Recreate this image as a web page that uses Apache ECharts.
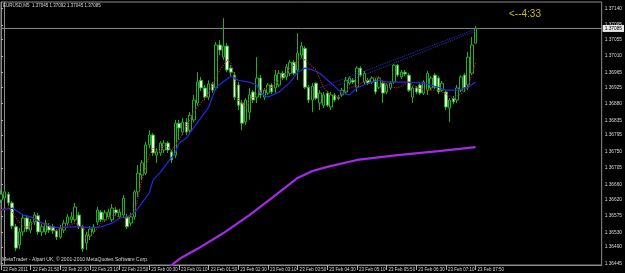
<!DOCTYPE html>
<html><head><meta charset="utf-8">
<script src="https://cdn.jsdelivr.net/npm/echarts@6/dist/echarts.min.js"></script>
<style>html,body{margin:0;padding:0;background:#000}#c{width:625px;height:273px}</style>
</head><body><div id="c"></div>
<script>
// ---- data (EURUSD M5, bars from 22 Feb 21:10 to 23 Feb 07:50) ----
const openP = [1.36618,1.36623,1.36634,1.36610,1.36545,1.36496,1.36531,1.36569,1.36536,1.36558,1.36575,1.36531,1.36531,1.36547,1.36545,1.36534,1.36517,1.36536,1.36555,1.36564,1.36564,1.36577,1.36545,1.36501,1.36520,1.36531,1.36558,1.36585,1.36564,1.36572,1.36564,1.36591,1.36572,1.36577,1.36572,1.36555,1.36572,1.36640,1.36686,1.36691,1.36768,1.36795,1.36740,1.36746,1.36754,1.36773,1.36749,1.36740,1.36827,1.36803,1.36830,1.36808,1.36836,1.36882,1.36944,1.36923,1.36898,1.36934,1.36923,1.37040,1.37007,1.37037,1.36977,1.36958,1.36931,1.36882,1.36830,1.36857,1.36912,1.36898,1.36950,1.36898,1.36909,1.36931,1.36923,1.36931,1.36963,1.36953,1.36963,1.36993,1.36972,1.37012,1.37031,1.36925,1.36890,1.36936,1.36882,1.36876,1.36909,1.36871,1.36904,1.36898,1.36904,1.36912,1.36936,1.36944,1.36925,1.36977,1.36939,1.36944,1.36939,1.36944,1.36925,1.36936,1.36912,1.36923,1.36939,1.36985,1.36953,1.36966,1.36958,1.36898,1.36923,1.36931,1.36909,1.36917,1.36923,1.36958,1.36950,1.36917,1.36912,1.36868,1.36895,1.36890,1.36917,1.36958,1.36931,1.36963,1.37045];
const closeP = [1.36634,1.36640,1.36610,1.36547,1.36487,1.36531,1.36569,1.36539,1.36558,1.36577,1.36531,1.36545,1.36555,1.36536,1.36534,1.36517,1.36542,1.36555,1.36572,1.36572,1.36599,1.36545,1.36485,1.36523,1.36539,1.36545,1.36591,1.36564,1.36583,1.36585,1.36596,1.36583,1.36585,1.36623,1.36545,1.36572,1.36640,1.36691,1.36719,1.36768,1.36795,1.36746,1.36749,1.36773,1.36773,1.36754,1.36727,1.36827,1.36814,1.36830,1.36803,1.36849,1.36890,1.36939,1.36923,1.36898,1.36934,1.36917,1.37040,1.37026,1.37037,1.36972,1.36966,1.36898,1.36876,1.36827,1.36890,1.36904,1.36890,1.36950,1.36904,1.36917,1.36931,1.36912,1.36958,1.36963,1.36950,1.36980,1.36993,1.36963,1.37018,1.37037,1.36925,1.36890,1.36928,1.36895,1.36909,1.36904,1.36876,1.36904,1.36890,1.36895,1.36917,1.36944,1.36950,1.36939,1.36977,1.36958,1.36963,1.36936,1.36950,1.36912,1.36950,1.36909,1.36931,1.36936,1.36985,1.36958,1.36966,1.36961,1.36917,1.36923,1.36912,1.36909,1.36939,1.36963,1.36950,1.36925,1.36912,1.36936,1.36871,1.36890,1.36885,1.36923,1.36953,1.36923,1.37007,1.37040,1.37085];
const highP = [1.36645,1.36648,1.36640,1.36615,1.36553,1.36542,1.36580,1.36577,1.36566,1.36585,1.36583,1.36553,1.36564,1.36555,1.36553,1.36539,1.36550,1.36564,1.36580,1.36585,1.36610,1.36585,1.36550,1.36531,1.36547,1.36553,1.36599,1.36591,1.36591,1.36594,1.36607,1.36599,1.36594,1.36632,1.36580,1.36583,1.36645,1.36713,1.36727,1.36776,1.36808,1.36800,1.36759,1.36778,1.36781,1.36778,1.36754,1.36836,1.36836,1.36841,1.36841,1.36857,1.36904,1.36966,1.36953,1.36931,1.36944,1.36939,1.37048,1.37053,1.37113,1.37045,1.36985,1.36966,1.36939,1.36890,1.36895,1.36923,1.36917,1.37007,1.36958,1.36923,1.36936,1.36936,1.36972,1.36972,1.36969,1.36988,1.36999,1.36999,1.37072,1.37048,1.37037,1.36931,1.36936,1.36939,1.36917,1.36912,1.36915,1.36912,1.36909,1.36904,1.36923,1.36953,1.36955,1.36950,1.36982,1.36982,1.36969,1.36950,1.36955,1.36950,1.36955,1.36942,1.36936,1.36942,1.36988,1.36988,1.36972,1.36972,1.36963,1.36928,1.36928,1.36936,1.36944,1.36969,1.36955,1.36963,1.36955,1.36942,1.36917,1.36895,1.36901,1.36931,1.36958,1.36963,1.37021,1.37061,1.37092];
const lowP = [1.36610,1.36618,1.36602,1.36539,1.36479,1.36485,1.36520,1.36531,1.36528,1.36550,1.36523,1.36520,1.36523,1.36528,1.36526,1.36509,1.36512,1.36528,1.36547,1.36555,1.36558,1.36539,1.36477,1.36482,1.36509,1.36526,1.36550,1.36558,1.36558,1.36566,1.36558,1.36575,1.36566,1.36569,1.36539,1.36547,1.36564,1.36626,1.36672,1.36686,1.36759,1.36738,1.36719,1.36738,1.36746,1.36746,1.36719,1.36732,1.36781,1.36795,1.36795,1.36800,1.36830,1.36874,1.36915,1.36890,1.36890,1.36909,1.36917,1.37012,1.36999,1.36966,1.36955,1.36890,1.36863,1.36808,1.36822,1.36836,1.36882,1.36882,1.36895,1.36890,1.36904,1.36906,1.36909,1.36925,1.36944,1.36944,1.36955,1.36958,1.36944,1.37004,1.36920,1.36882,1.36857,1.36890,1.36863,1.36868,1.36871,1.36863,1.36885,1.36890,1.36898,1.36906,1.36931,1.36934,1.36912,1.36953,1.36931,1.36931,1.36934,1.36906,1.36920,1.36882,1.36906,1.36917,1.36934,1.36953,1.36947,1.36955,1.36912,1.36882,1.36906,1.36904,1.36904,1.36904,1.36917,1.36920,1.36906,1.36912,1.36863,1.36830,1.36879,1.36882,1.36912,1.36912,1.36917,1.36958,1.37045];

// moving averages: [bar index, price]
const redMA = [[0,1.36591],[2,1.36599],[4,1.36569],[6,1.36545],[8,1.36545],[9,1.36569],[12,1.36550],[15,1.36536],[17,1.36545],[20,1.36555],[22,1.36542],[24,1.36523],[25,1.36528],[27,1.36555],[30,1.36577],[32,1.36572],[34,1.36569],[36,1.36583],[37,1.36626],[38,1.36672],[39,1.36705],[40,1.36740],[41,1.36759],[43,1.36749],[44,1.36768],[46,1.36754],[48,1.36781],[52,1.36857],[56,1.36909],[59,1.36972],[61,1.36999],[62,1.36993],[63,1.36950],[64,1.36890],[66,1.36871],[68,1.36898],[70,1.36917],[73,1.36925],[76,1.36953],[78,1.36977],[81,1.37004],[82,1.36999],[85,1.36972],[87,1.36923],[89,1.36904],[91,1.36898],[94,1.36923],[98,1.36939],[101,1.36953],[102,1.36950],[105,1.36925],[107,1.36923],[110,1.36939],[111,1.36931],[114,1.36917],[118,1.36917],[120,1.36906],[122,1.36895],[124,1.36906],[126,1.36925],[127,1.36961],[128,1.36991]];
const blueMA = [[0,1.36591],[3,1.36596],[6,1.36577],[8,1.36572],[11,1.36555],[14,1.36545],[16,1.36542],[19,1.36545],[22,1.36545],[24,1.36542],[27,1.36545],[30,1.36555],[32,1.36569],[34,1.36572],[36,1.36583],[38,1.36610],[40,1.36637],[41,1.36672],[43,1.36694],[45,1.36721],[47,1.36746],[48,1.36773],[50,1.36787],[56,1.36871],[58,1.36925],[62,1.36955],[64,1.36944],[67,1.36939],[69,1.36931],[70,1.36909],[72,1.36898],[75,1.36912],[78,1.36939],[80,1.36966],[82,1.36977],[84,1.36972],[86,1.36963],[89,1.36936],[92,1.36909],[94,1.36904],[96,1.36923],[99,1.36936],[102,1.36944],[104,1.36939],[107,1.36939],[110,1.36939],[114,1.36936],[118,1.36925],[120,1.36917],[123,1.36917],[125,1.36923],[126,1.36925],[128,1.36939]];
const purpleMA = [[44,1.36422],[47,1.36449],[49,1.36463],[53,1.36485],[60,1.36528],[67,1.36577],[73,1.36623],[80,1.36678],[84,1.36697],[88,1.36708],[96,1.36727],[107,1.36740],[118,1.36751],[128,1.36762]];
const trendA = [[86,1.36923],[128,1.37083]];
const trendB = [[91,1.36931],[128,1.37078]];

const xTickIdx = [0,8,16,24,32,40,48,56,64,72,80,88,96,104,112,120,128];
const xTickLabels = ['22 Feb 2011','22 Feb 21:50','22 Feb 22:30','22 Feb 23:10','22 Feb 23:50','23 Feb 00:30','23 Feb 01:10','23 Feb 01:50','23 Feb 02:30','23 Feb 03:10','23 Feb 03:50','23 Feb 04:30','23 Feb 05:10','23 Feb 05:50','23 Feb 06:30','23 Feb 07:10','23 Feb 07:50'];
const yTicks = [1.37140,1.37095,1.37055,1.37010,1.36965,1.36925,1.36880,1.36835,1.36795,1.36750,1.36705,1.36660,1.36620,1.36575,1.36530,1.36490,1.36445];
const bidPrice = 1.37085;
const titleText = 'EURUSD,M5  1.37045 1.37092 1.37045 1.37085';
const footerText = 'MetaTrader - Alpari UK, \u00a9 2001-2010 MetaQuotes Software Corp.';
const timerText = '<--4:33';

const candles = openP.map((o, i) => [i, o, closeP[i], lowP[i], highP[i]]);
const FONT = 'Liberation Sans';
const AX = '#8c8c8c';
const XMIN = 0, XMAX = 162;
const YMIN = 1.36441, YMAX = 1.37157;
const bidLine = [[XMIN, bidPrice], [XMAX, bidPrice]];

const chart = echarts.init(document.getElementById('c'), null, {renderer: 'canvas'});
chart.setOption({
  backgroundColor: '#000000',
  animation: false,
  grid: {left: -1.8, right: 18, top: 2, bottom: 8, show: true, borderColor: AX, borderWidth: 1, backgroundColor: 'transparent'},
  xAxis: {
    type: 'value', min: XMIN, max: XMAX,
    axisLine: {show: true, lineStyle: {color: AX, width: 1}},
    splitLine: {show: false},
    axisTick: {show: true, inside: false, length: 5, lineStyle: {color: '#b0b0b0'}, customValues: xTickIdx},
    axisLabel: {show: true, customValues: xTickIdx, color: '#d8d8d8', fontSize: 4.5, fontFamily: FONT,
      align: 'left', margin: 2, padding: [0,0,0,2],
      formatter: v => xTickLabels[xTickIdx.indexOf(Math.round(v))] || ''}
  },
  yAxis: [{
    type: 'value', position: 'right', min: YMIN, max: YMAX, scale: true,
    axisLine: {show: true, lineStyle: {color: AX, width: 1}},
    splitLine: {show: false},
    axisTick: {show: true, length: 2, lineStyle: {color: '#b0b0b0'}, customValues: yTicks},
    axisLabel: {show: true, customValues: yTicks, color: '#d8d8d8', fontSize: 4.8, fontFamily: FONT, margin: 3,
      hideOverlap: false, formatter: v => v.toFixed(5)}
  }, {
    type: 'value', position: 'left', offset: -3, min: YMIN, max: YMAX, scale: true,
    axisLine: {show: true, lineStyle: {color: AX, width: 1}},
    axisTick: {show: false}, axisLabel: {show: false}, splitLine: {show: false}
  }],
  series: [
    {type: 'line', data: bidLine, symbol: 'none', z: 1, silent: true,
      lineStyle: {color: '#8a8a8a', width: 1},
      endLabel: {show: true, distance: 1, formatter: () => bidPrice.toFixed(5),
        color: '#000', backgroundColor: '#e6e6e6', fontSize: 4.8, fontFamily: FONT, padding: [1, 2]}},
    {type: 'line', data: purpleMA, symbol: 'none', clip: true, z: 2,
      lineStyle: {color: '#a52ae8', width: 2.2}},
    {type: 'candlestick', data: candles, encode: {x: 0, y: [1, 2, 3, 4]}, barWidth: 3, clip: true, z: 3,
      itemStyle: {color: '#000000', color0: '#eaffe2', borderColor: '#22b022', borderColor0: '#22b022', borderWidth: 1}},
    {type: 'line', data: blueMA, symbol: 'none', z: 4, lineStyle: {color: '#2626e8', width: 1.2}},
    {type: 'line', data: redMA, symbol: 'none', z: 5, lineStyle: {color: '#b01a1a', width: 1.2, type: 'dotted'}},
    {type: 'line', data: trendA, symbol: 'none', z: 4, lineStyle: {color: '#3030c8', width: 1, type: 'dotted'}},
    {type: 'line', data: trendB, symbol: 'none', z: 4, lineStyle: {color: '#3030c8', width: 1, type: 'dotted'}}
  ],
  graphic: [
    {type: 'text', left: 3, top: 3, z: 10, style: {text: titleText, fill: '#d8d8d8', font: '4.5px "Liberation Sans"'}},
    {type: 'text', left: 2, top: 257.5, z: 10, style: {text: footerText, fill: '#d8d8d8', font: '5px "Liberation Sans"'}},
    {type: 'text', left: 509, top: 9.5, z: 10, style: {text: timerText, fill: '#c4bc1e', font: '10px "Liberation Sans"'}}
  ]
});
</script>
</body></html>
